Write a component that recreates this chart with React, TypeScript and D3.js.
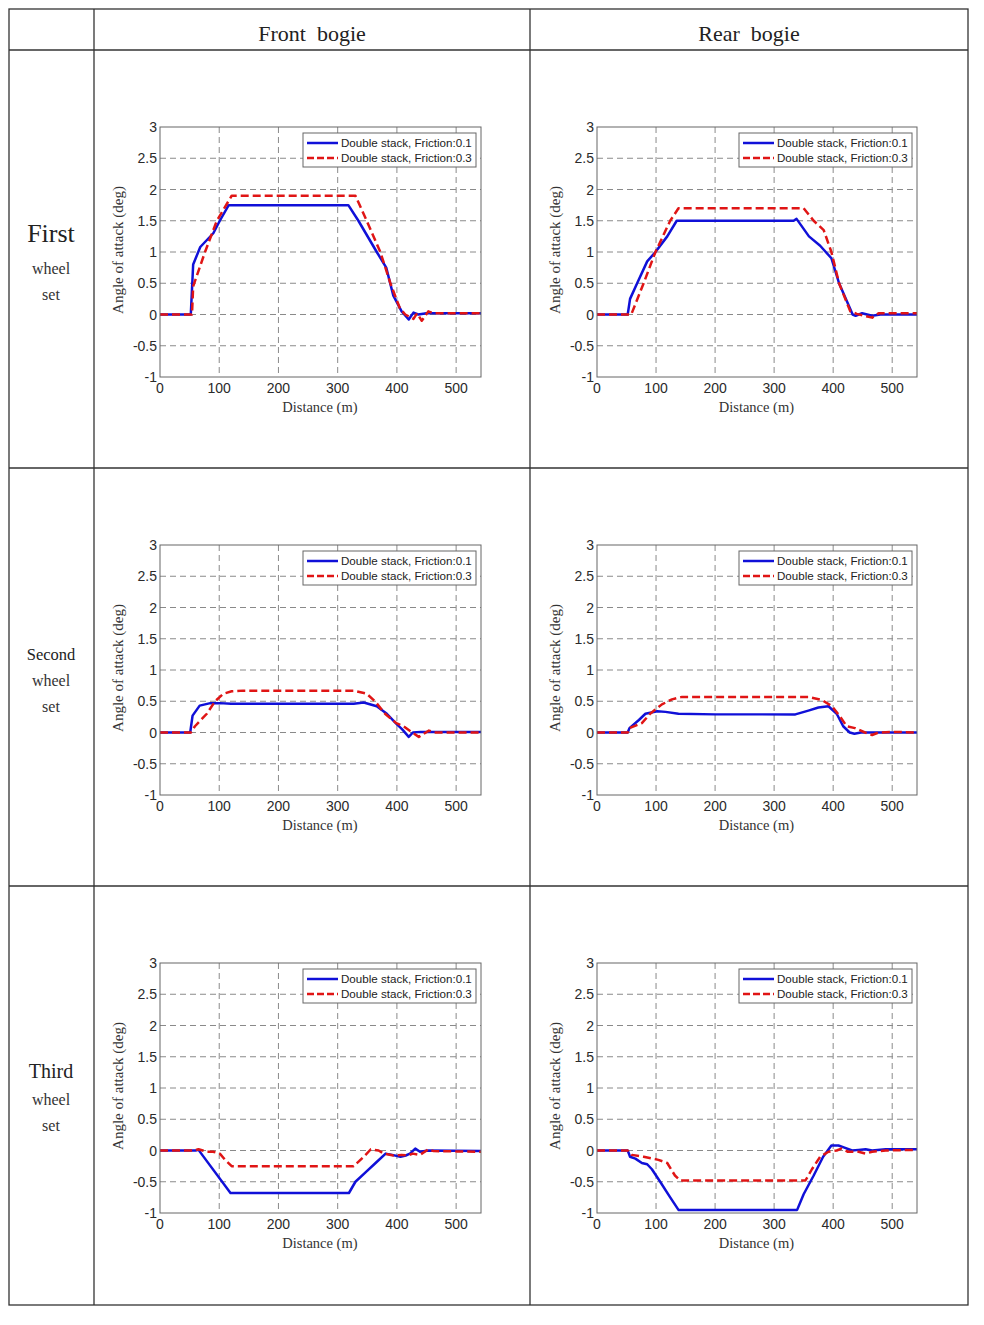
import React from "react";
import * as d3 from "d3";

type Pt = [number, number];

// Column / row headers
const columnTitles = ["Front  bogie", "Rear  bogie"];
const rowTitles: { big: string; rest: string[]; size: number }[] = [
  { big: "First", rest: ["wheel", "set"], size: 26 },
  { big: "Second", rest: ["wheel", "set"], size: 16.5 },
  { big: "Third", rest: ["wheel", "set"], size: 20 },
];
const legendLabels = ["Double stack, Friction:0.1", "Double stack, Friction:0.3"];
const xTicks = [0, 100, 200, 300, 400, 500];
const yTicks = [3, 2.5, 2, 1.5, 1, 0.5, 0, -0.5, -1];
const xLabel = "Distance (m)";
const yLabel = "Angle of attack (deg)";

// First wheel set, front bogie
const firstFrontF01: Pt[] = [[0, 0], [52, 0], [56, 0.8], [68, 1.08], [90, 1.3], [101, 1.5], [116, 1.75], [318, 1.75], [335, 1.5], [366, 1.0], [382, 0.75], [394, 0.3], [408, 0.05], [420, -0.08], [428, 0.03], [436, 0.0], [450, 0.02], [542, 0.02]];
const firstFrontF03: Pt[] = [[0, 0], [54, 0], [56, 0.45], [76, 1.0], [96, 1.5], [121, 1.9], [330, 1.9], [349, 1.5], [372, 1.0], [389, 0.5], [405, 0.1], [414, 0.0], [428, -0.07], [434, 0.02], [442, -0.1], [453, 0.05], [462, 0.02], [542, 0.02]];
// First wheel set, rear bogie
const firstRearF01: Pt[] = [[0, 0], [52, 0], [56, 0.25], [68, 0.5], [85, 0.85], [99, 1.0], [119, 1.25], [135, 1.5], [333, 1.5], [338, 1.53], [359, 1.25], [378, 1.1], [397, 0.9], [410, 0.5], [433, 0.0], [438, -0.02], [449, 0.02], [466, -0.02], [480, 0.0], [542, 0.0]];
const firstRearF03: Pt[] = [[0, 0], [58, 0], [79, 0.5], [99, 1.0], [124, 1.5], [138, 1.7], [350, 1.7], [367, 1.5], [384, 1.35], [397, 1.0], [410, 0.5], [429, 0.05], [440, 0.01], [466, -0.05], [477, 0.02], [542, 0.02]];
// Second wheel set, front bogie
const secondFrontF01: Pt[] = [[0, 0], [51, 0], [55, 0.27], [67, 0.43], [85, 0.47], [101, 0.47], [120, 0.46], [327, 0.46], [344, 0.48], [366, 0.42], [383, 0.3], [398, 0.15], [409, 0.05], [420, -0.07], [427, 0.0], [440, 0.01], [542, 0.01]];
const secondFrontF03: Pt[] = [[0, 0], [52, 0], [59, 0.1], [79, 0.3], [93, 0.5], [107, 0.62], [121, 0.66], [140, 0.67], [327, 0.67], [349, 0.62], [363, 0.5], [380, 0.3], [399, 0.15], [411, 0.1], [426, 0.0], [437, -0.07], [454, 0.03], [463, 0.0], [542, 0.0]];
// Second wheel set, rear bogie
const secondRearF01: Pt[] = [[0, 0], [52, 0], [55, 0.07], [71, 0.2], [82, 0.3], [102, 0.34], [116, 0.33], [138, 0.3], [200, 0.29], [336, 0.29], [358, 0.35], [375, 0.4], [392, 0.42], [406, 0.3], [417, 0.1], [428, 0.0], [436, -0.02], [447, 0.0], [542, 0.0]];
const secondRearF03: Pt[] = [[0, 0], [52, 0], [55, 0.07], [76, 0.15], [90, 0.3], [110, 0.45], [127, 0.53], [144, 0.57], [358, 0.57], [381, 0.52], [398, 0.42], [412, 0.25], [423, 0.1], [437, 0.07], [454, 0.0], [466, -0.04], [477, 0.0], [505, 0.01], [542, 0.0]];
// Third wheel set, front bogie
const thirdFrontF01: Pt[] = [[0, 0], [60, 0], [65, 0.01], [119, -0.68], [319, -0.68], [330, -0.5], [347, -0.35], [364, -0.2], [381, -0.05], [392, -0.07], [406, -0.1], [415, -0.08], [422, -0.05], [431, 0.03], [439, -0.02], [453, 0.0], [542, -0.01]];
const thirdFrontF03: Pt[] = [[0, 0], [57, 0], [65, 0.02], [79, -0.02], [90, -0.02], [101, -0.05], [110, -0.15], [121, -0.25], [327, -0.25], [344, -0.1], [356, 0.02], [369, 0.0], [378, -0.05], [394, -0.08], [408, -0.07], [418, -0.08], [427, -0.05], [439, -0.07], [453, 0.02], [462, -0.01], [542, -0.02]];
// Third wheel set, rear bogie
const thirdRearF01: Pt[] = [[0, 0], [52, 0], [56, -0.1], [65, -0.13], [76, -0.2], [85, -0.22], [93, -0.3], [107, -0.5], [124, -0.75], [138, -0.95], [339, -0.95], [350, -0.7], [367, -0.4], [383, -0.1], [397, 0.08], [409, 0.08], [418, 0.05], [432, 0.0], [443, 0.01], [455, 0.02], [466, 0.0], [489, 0.02], [542, 0.02]];
const thirdRearF03: Pt[] = [[0, 0], [52, 0], [59, -0.07], [79, -0.1], [104, -0.15], [119, -0.2], [132, -0.4], [141, -0.48], [353, -0.48], [364, -0.3], [378, -0.1], [392, -0.02], [406, 0.0], [414, 0.03], [425, -0.02], [443, -0.02], [455, -0.05], [466, -0.02], [489, 0.0], [542, 0.01]];

const panels: Pt[][][] = [
  [[firstFrontF01, firstFrontF03], [firstRearF01, firstRearF03]],
  [[secondFrontF01, secondFrontF03], [secondRearF01, secondRearF03]],
  [[thirdFrontF01, thirdFrontF03], [thirdRearF01, thirdRearF03]],
];

const BLUE = "#1010d8";
const RED = "#e01515";
const SERIF = "'Liberation Serif', 'DejaVu Serif', serif";
const SANS = "'Liberation Sans', Arial, sans-serif";

const W = 984;
const H = 1325;
const tableLeft = 9;
const tableRight = 968;
const tableTop = 9;
const tableBottom = 1305;
const colLines = [94, 530];
const headerBottom = 50;
const rowLines = [468, 886];
const rowHeight = 418;
const plotLefts = [160, 597];
const plotWidths = [321, 320];
const plotTop0 = 127;
const plotHeight = 250;

function Panel({ left, top, width, series, id }: { left: number; top: number; width: number; series: Pt[][]; id: string }) {
  const x = d3.scaleLinear().domain([0, 542]).range([0, width]);
  const y = d3.scaleLinear().domain([-1, 3]).range([plotHeight, 0]);
  const line = d3.line<Pt>().x((d) => x(d[0])).y((d) => y(d[1]));
  const legW = 173;
  const legX = width - 5 - legW;
  const legY = 6;
  return (
    <g transform={`translate(${left},${top})`}>
      <defs>
        <clipPath id={id}>
          <rect x={0} y={0} width={width} height={plotHeight} />
        </clipPath>
      </defs>
      <rect x={0} y={0} width={width} height={plotHeight} fill="#fff" />
      {xTicks.slice(1).map((t) => (
        <line key={"gx" + t} x1={x(t)} x2={x(t)} y1={0} y2={plotHeight} stroke="#8a8a8a" strokeWidth={1} strokeDasharray="6,4" />
      ))}
      {yTicks.slice(1, -1).map((t) => (
        <line key={"gy" + t} x1={0} x2={width} y1={y(t)} y2={y(t)} stroke="#8a8a8a" strokeWidth={1} strokeDasharray="6,4" />
      ))}
      <g clipPath={`url(#${id})`}>
        <path d={line(series[0]) || ""} fill="none" stroke={BLUE} strokeWidth={2.5} strokeLinejoin="round" />
        <path d={line(series[1]) || ""} fill="none" stroke={RED} strokeWidth={2.5} strokeDasharray="8,4" strokeLinejoin="round" />
      </g>
      <rect x={0} y={0} width={width} height={plotHeight} fill="none" stroke="#666" strokeWidth={1} />
      {xTicks.map((t) => (
        <text key={"tx" + t} x={x(t)} y={plotHeight + 16} textAnchor="middle" fontFamily={SANS} fontSize={14} fill="#2a2a2a">
          {t}
        </text>
      ))}
      {yTicks.map((t) => (
        <text key={"ty" + t} x={-3} y={y(t) + 5} textAnchor="end" fontFamily={SANS} fontSize={14} fill="#2a2a2a">
          {t}
        </text>
      ))}
      <text x={x(270)} y={plotHeight + 35} textAnchor="middle" fontFamily={SERIF} fontSize={14.5} fill="#333">
        {xLabel}
      </text>
      <text transform={`translate(${-37},${plotHeight / 2 - 2}) rotate(-90)`} textAnchor="middle" fontFamily={SERIF} fontSize={15} fill="#333">
        {yLabel}
      </text>
      <g transform={`translate(${legX},${legY})`}>
        <rect x={0} y={0} width={legW} height={34} fill="#fff" stroke="#666" strokeWidth={1} />
        <line x1={4} x2={35} y1={10} y2={10} stroke={BLUE} strokeWidth={2.5} />
        <line x1={4} x2={35} y1={25} y2={25} stroke={RED} strokeWidth={2.5} strokeDasharray="7,3" />
        <text x={38} y={14} fontFamily={SANS} fontSize={11.6} fill="#222">{legendLabels[0]}</text>
        <text x={38} y={29} fontFamily={SANS} fontSize={11.6} fill="#222">{legendLabels[1]}</text>
      </g>
    </g>
  );
}

export default function App() {
  return (
    <div style={{ position: "absolute", left: 0, top: 0 }}>
      <svg width={W} height={H} style={{ display: "block", background: "#fff" }}>
        <rect x={0} y={0} width={W} height={H} fill="#fff" />
        {/* table frame */}
        <rect x={tableLeft} y={tableTop} width={tableRight - tableLeft} height={tableBottom - tableTop} fill="none" stroke="#333" strokeWidth={1.3} />
        {colLines.map((cx) => (
          <line key={"c" + cx} x1={cx} x2={cx} y1={tableTop} y2={tableBottom} stroke="#333" strokeWidth={1.3} />
        ))}
        <line x1={tableLeft} x2={tableRight} y1={headerBottom} y2={headerBottom} stroke="#333" strokeWidth={1.3} />
        {rowLines.map((ry) => (
          <line key={"r" + ry} x1={tableLeft} x2={tableRight} y1={ry} y2={ry} stroke="#333" strokeWidth={1.3} />
        ))}
        {/* column titles */}
        {columnTitles.map((t, i) => (
          <text key={t} x={(colLines[i] + (i === 0 ? colLines[1] : tableRight)) / 2} y={41} textAnchor="middle" fontFamily={SERIF} fontSize={22} fill="#222" style={{ whiteSpace: "pre" }}>
            {t}
          </text>
        ))}
        {/* row titles */}
        {rowTitles.map((r, i) => {
          const base = [242, 660, 1078][i];
          return (
            <g key={r.big}>
              <text x={51} y={base} textAnchor="middle" fontFamily={SERIF} fontSize={r.size} fill="#222">{r.big}</text>
              <text x={51} y={[274, 686, 1105][i]} textAnchor="middle" fontFamily={SERIF} fontSize={16} fill="#333">{r.rest[0]}</text>
              <text x={51} y={[300, 712, 1131][i]} textAnchor="middle" fontFamily={SERIF} fontSize={16} fill="#333">{r.rest[1]}</text>
            </g>
          );
        })}
        {panels.map((row, ri) =>
          row.map((series, ci) => (
            <Panel key={`${ri}-${ci}`} id={`clip-${ri}-${ci}`} left={plotLefts[ci]} top={plotTop0 + ri * rowHeight} width={plotWidths[ci]} series={series} />
          ))
        )}
      </svg>
    </div>
  );
}
